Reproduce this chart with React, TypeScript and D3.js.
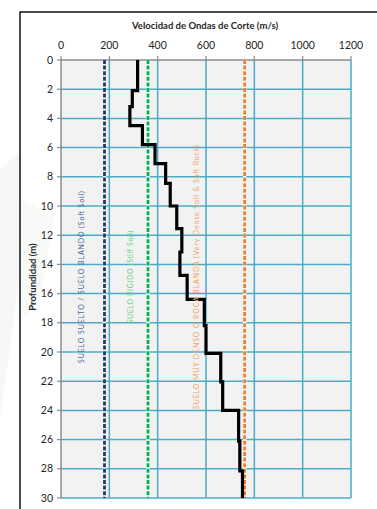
import React from "react";
import * as d3 from "d3";

// velocity profile (m/s) by layer, depth of layer top (m)
const layerTops = [0, 2.1, 3.2, 4.5, 5.8, 7.1, 8.45, 10.0, 11.55, 13.15, 14.75, 16.4, 18.2, 20.1, 22.05, 24.0, 26.1, 28.15];
const layerVs = [317, 295, 285, 337, 389, 433, 452, 479, 500, 492, 522, 593, 600, 661, 669, 735, 740, 751];
const maxDepth = 30;

const xTicks = [0, 200, 400, 600, 800, 1000, 1200];
const yTicks = [0, 2, 4, 6, 8, 10, 12, 14, 16, 18, 20, 22, 24, 26, 28, 30];

// site class limits
const limits = [
  { vs: 180, color: "#1f3864", label: "SUELO SUELTO / SUELO BLANDO  (Soft Soil)", textColor: "#4a64a0", tx: 82, len: 172 },
  { vs: 360, color: "#00b050", label: "SUELO RIGIDO  (Stiff Soil)", textColor: "#5fd07f", tx: 131, len: 93 },
  { vs: 760, color: "#ed7d31", label: "SUELO MUY DENSO O ROCA BLANDA  (Very Dense Soil &  Soft Rock)", textColor: "#f2a062", tx: 197, len: 264 },
];

const font = "Lato, 'Open Sans', sans-serif";

export default function App() {
  const x = d3.scaleLinear().domain([0, 1200]).range([61, 351]);
  const y = d3.scaleLinear().domain([0, maxDepth]).range([60, 498]);

  const pts: { v: number; d: number }[] = [];
  layerVs.forEach((v, i) => {
    const bottom = i < layerTops.length - 1 ? layerTops[i + 1] : maxDepth;
    pts.push({ v, d: layerTops[i] });
    pts.push({ v, d: bottom });
  });
  const stepLine = d3.line<{ v: number; d: number }>().x(d => x(d.v)).y(d => y(d.d));

  const midY = (y(0) + y(maxDepth)) / 2 - 2;

  return (
    <svg width={377} height={509} style={{ position: "absolute", left: 0, top: 0, display: "block" }} fontFamily={font}>
      <rect width={377} height={509} fill="#ffffff" />
      {/* faint watermark */}
      <path d="M0,170 L22,150 L60,200 L22,260 L0,420 Z" fill="#edf2ed" opacity={0.5} />
      <rect x={20} y={12} width={400} height={520} fill="#ffffff" stroke="#111" strokeWidth={1.5} />
      <path d="M21,200 L55,215 L40,300 L21,320 Z" fill="#f1f5f1" opacity={0.5} />

      <rect x={x(0)} y={y(0)} width={x(1200) - x(0)} height={y(maxDepth) - y(0)} fill="#f2f2f2" />

      {/* grid */}
      {yTicks.filter(t => t > 0).map(t => (
        <line key={"h" + t} x1={x(0)} x2={x(1200)} y1={y(t)} y2={y(t)} stroke="#4bacc6" strokeWidth={1.5} />
      ))}
      {xTicks.filter(t => t > 0).map(t => (
        <line key={"v" + t} x1={x(t)} x2={x(t)} y1={y(0)} y2={y(maxDepth)} stroke="#4bacc6" strokeWidth={1.5} />
      ))}

      {/* axes */}
      <line x1={x(0)} x2={x(1200)} y1={y(0)} y2={y(0)} stroke="#8c8c8c" strokeWidth={1.5} />
      <line x1={x(0)} x2={x(0)} y1={y(0)} y2={y(maxDepth)} stroke="#8c8c8c" strokeWidth={1.5} />
      {xTicks.map(t => (
        <g key={"xt" + t}>
          <line x1={x(t)} x2={x(t)} y1={y(0)} y2={y(0) - 4} stroke="#8c8c8c" strokeWidth={1.2} />
          <text x={x(t)} y={49} textAnchor="middle" fontSize={10.5} fill="#262626">{t}</text>
        </g>
      ))}
      {yTicks.map(t => (
        <g key={"yt" + t}>
          <line x1={x(0) - 4} x2={x(0)} y1={y(t)} y2={y(t)} stroke="#8c8c8c" strokeWidth={1.2} />
          <text x={53} y={y(t)} dy="0.35em" textAnchor="end" fontSize={10.5} fill="#262626">{t}</text>
        </g>
      ))}

      <text x={205} y={29} textAnchor="middle" fontSize={9.5} fontWeight="bold" fill="#262626">
        Velocidad de Ondas de Corte (m/s)
      </text>
      <text transform={`translate(36,${midY}) rotate(-90)`} textAnchor="middle" fontSize={9.5} fontWeight="bold" fill="#262626">
        Profundidad (m)
      </text>

      {/* class limit lines */}
      {limits.map(l => (
        <g key={l.vs}>
          <line x1={x(l.vs)} x2={x(l.vs)} y1={y(0)} y2={y(maxDepth)} stroke="#ffffff" strokeWidth={3.5} />
          <line x1={x(l.vs)} x2={x(l.vs)} y1={y(0)} y2={y(maxDepth)} stroke={l.color} strokeWidth={2.8} strokeDasharray="4,1.6" />
        </g>
      ))}

      {/* velocity profile */}
      <path d={stepLine(pts) ?? ""} fill="none" stroke="#000" strokeWidth={3.2} strokeLinejoin="miter" />

      {limits.map(l => (
        <text key={"t" + l.vs} transform={`translate(${l.tx},${midY}) rotate(-90)`} textAnchor="middle" dy="0.35em"
          fontSize={7} fill={l.textColor} textLength={l.len} lengthAdjust="spacing">
          {l.label}
        </text>
      ))}
    </svg>
  );
}
